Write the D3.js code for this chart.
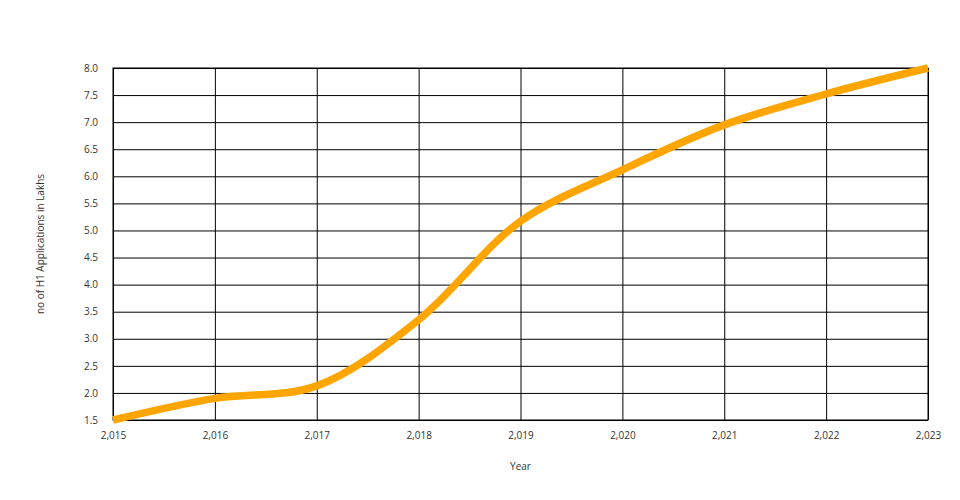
<!DOCTYPE html>
<html><head><meta charset="utf-8">
<script src="https://cdn.jsdelivr.net/npm/d3@7"></script>
<style>body{margin:0;background:#fff;font-family:"Open Sans",sans-serif;}</style>
</head><body><svg id="c" width="960" height="500"></svg>
<script>
const years = [2015, 2016, 2017, 2018, 2019, 2020, 2021, 2022, 2023];
const applications = [1.5, 1.9, 2.13, 3.35, 5.17, 6.12, 6.95, 7.52, 8.0];
const yTicks = [1.5, 2.0, 2.5, 3.0, 3.5, 4.0, 4.5, 5.0, 5.5, 6.0, 6.5, 7.0, 7.5, 8.0];

const svg = d3.select("#c");
const m = {l:113, r:32, t:68, b:80};
const W = 960, H = 500;
const x = d3.scaleLinear().domain([2015, 2023]).range([m.l, W - m.r]);
const y = d3.scaleLinear().domain([1.5, 8.0]).range([H - m.b, m.t]);

const fmtX = d3.format(",");
const gx = svg.append("g").attr("transform", `translate(0,${H - m.b})`)
  .call(d3.axisBottom(x).tickValues(years).tickFormat(d => fmtX(d)).tickSize(-(H - m.b - m.t)).tickPadding(12));
const gy = svg.append("g").attr("transform", `translate(${m.l},0)`)
  .call(d3.axisLeft(y).tickValues(yTicks).tickFormat(d3.format(".1f")).tickSize(-(W - m.l - m.r)).tickPadding(15));
[gx, gy].forEach(g => {
  g.select(".domain").remove();
  g.selectAll(".tick line").attr("stroke", "#000").attr("stroke-width", 1);
  g.selectAll(".tick text").attr("fill", "#333").style("font-family", "'Open Sans', sans-serif").style("font-size", "10px");
});
gy.selectAll(".tick text").attr("dy", "0.32em");
svg.append("rect").attr("x", m.l).attr("y", m.t).attr("width", W - m.l - m.r).attr("height", H - m.b - m.t)
  .attr("fill", "none").attr("stroke", "#000");

const data = years.map((d, i) => ({x: d, y: applications[i]}));
svg.append("path").datum(data)
  .attr("fill", "none").attr("stroke", "#FFA500").attr("stroke-width", 7.5)
  .attr("d", d3.line().x(d => x(d.x)).y(d => y(d.y)).curve(d3.curveCatmullRom));

svg.append("text").attr("x", x(2019)).attr("y", 470).attr("text-anchor", "middle")
  .attr("fill", "#333").style("font-size", "10px").text("Year");
svg.append("text").attr("transform", `translate(44,${(m.t + H - m.b) / 2}) rotate(-90)`)
  .attr("text-anchor", "middle").attr("fill", "#333").style("font-size", "10px").text("no of H1 Applications in Lakhs");
</script></body></html>
